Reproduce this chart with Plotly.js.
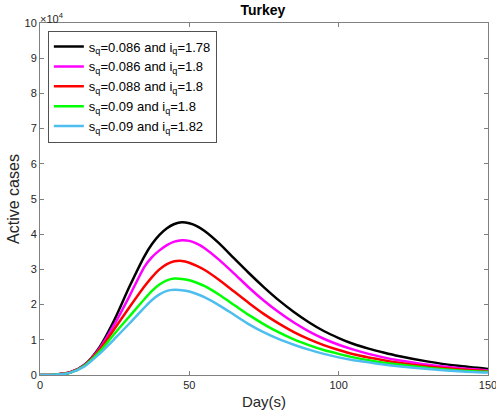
<!DOCTYPE html>
<html>
<head>
<meta charset="utf-8">
<script src="https://cdn.plot.ly/plotly-3.0.1.min.js"></script>
<style>body{margin:0;padding:0;background:#fff;} #chart{width:496px;height:410px;}</style>
</head>
<body>
<div id="chart"></div>
<script>
// Days and active cases (in units of 10^4)
const days    = [0,5,10,15,20,25,30,35,37.5,40,42.5,45,47.5,50,52.5,55,60,65,70,75,80,85,90,95,100,105,110,115,120,130,140,150];
const black   = [0,0.01,0.07,0.30,0.80,1.58,2.52,3.38,3.72,3.98,4.17,4.29,4.34,4.31,4.23,4.10,3.74,3.31,2.89,2.49,2.12,1.79,1.50,1.25,1.05,0.88,0.75,0.64,0.54,0.38,0.26,0.17];
const magenta = [0,0.01,0.07,0.29,0.76,1.45,2.25,3.08,3.35,3.54,3.69,3.79,3.83,3.81,3.73,3.61,3.27,2.88,2.48,2.11,1.78,1.49,1.24,1.03,0.86,0.72,0.60,0.50,0.42,0.29,0.20,0.13];
const red     = [0,0.01,0.07,0.28,0.72,1.32,1.93,2.52,2.78,3.00,3.15,3.23,3.24,3.19,3.10,2.99,2.70,2.37,2.04,1.73,1.46,1.22,1.02,0.85,0.71,0.59,0.50,0.42,0.35,0.24,0.16,0.11];
const green   = [0,0.01,0.06,0.27,0.67,1.18,1.67,2.16,2.39,2.57,2.69,2.74,2.73,2.69,2.62,2.53,2.28,1.99,1.70,1.44,1.21,1.01,0.85,0.71,0.60,0.50,0.42,0.35,0.30,0.20,0.13,0.09];
const cyan    = [0,0.01,0.06,0.25,0.61,1.03,1.47,1.92,2.13,2.29,2.39,2.42,2.41,2.37,2.30,2.21,1.98,1.71,1.44,1.21,1.02,0.86,0.72,0.60,0.50,0.42,0.36,0.30,0.25,0.17,0.11,0.07];
const names = [
  "s<sub>q</sub>=0.086 and i<sub>q</sub>=1.78",
  "s<sub>q</sub>=0.086 and i<sub>q</sub>=1.8",
  "s<sub>q</sub>=0.088 and i<sub>q</sub>=1.8",
  "s<sub>q</sub>=0.09 and i<sub>q</sub>=1.8",
  "s<sub>q</sub>=0.09 and i<sub>q</sub>=1.82"
];
const series = [black, magenta, red, green, cyan];
const colors = ["#000000", "#ff00ff", "#ff0000", "#00ff00", "#4dbeee"];
const xTicks = [0, 50, 100, 150];
const yTicks = [0,1,2,3,4,5,6,7,8,9,10];

const traces = series.map((ys, i) => ({
  x: days, y: ys, name: names[i], type: "scatter", mode: "lines",
  line: {color: colors[i], width: 2.5, shape: "spline", smoothing: 0.7}
}));

const font = "Liberation Sans, Arial, Helvetica, sans-serif";
const layout = {
  width: 496, height: 410,
  margin: {l: 40, r: 8, t: 23, b: 35},
  paper_bgcolor: "#fff", plot_bgcolor: "#fff",
  font: {family: font, color: "#262626", size: 11},
  title: {text: "<b>Turkey</b>", font: {size: 14, color: "#000", family: font}, x: 0.53, xanchor: "center", y: 0.975, yanchor: "middle"},
  xaxis: {
    range: [0, 150], tickvals: xTicks, ticks: "inside", ticklen: 4, tickcolor: "#808080",
    showline: true, linecolor: "#808080", linewidth: 1, mirror: "ticks", showgrid: false, zeroline: false,
    ticklabeloverflow: "allow",
    title: {text: "Day(s)", font: {size: 15, color: "#262626"}, standoff: 6},
    tickfont: {size: 11, color: "#262626"}
  },
  yaxis: {
    range: [0, 10], tickvals: yTicks, ticks: "inside", ticklen: 4, tickcolor: "#808080",
    showline: true, linecolor: "#808080", linewidth: 1, mirror: "ticks", showgrid: false, zeroline: false,
    title: {text: "Active cases", font: {size: 16, color: "#262626"}, standoff: 0},
    tickfont: {size: 11, color: "#262626"}
  },
  legend: {
    x: 0.018, y: 0.978, xanchor: "left", yanchor: "top",
    bgcolor: "#fff", bordercolor: "#262626", borderwidth: 0.8,
    font: {size: 13, color: "#000", family: font}, tracegroupgap: 0
  },
  annotations: [{
    text: "×10<sup>4</sup>", xref: "paper", yref: "paper", x: 0, y: 1, xanchor: "left", yanchor: "bottom",
    showarrow: false, font: {size: 11, color: "#262626"}, xshift: -2, yshift: -4
  }],
  showlegend: true
};
Plotly.newPlot("chart", traces, layout, {displayModeBar: false, staticPlot: true});
</script>
</body>
</html>
